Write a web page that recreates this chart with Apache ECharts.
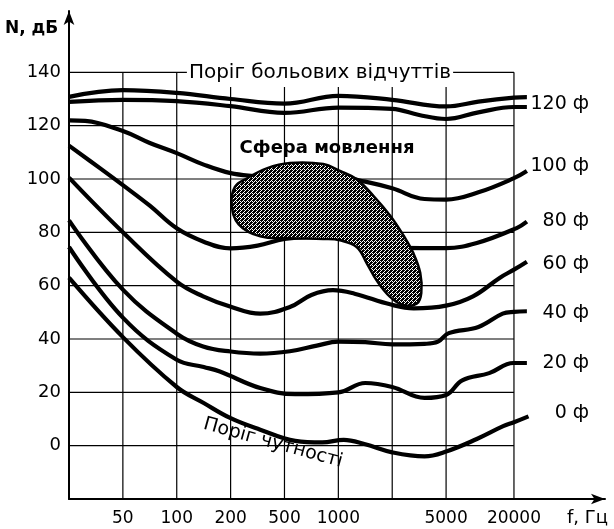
<!DOCTYPE html>
<html><head><meta charset="utf-8">
<script src="https://cdn.jsdelivr.net/npm/echarts@6/dist/echarts.min.js"></script>
<style>html,body{margin:0;padding:0;background:#fff}#c{width:614px;height:529px}</style>
</head><body><div id="c"></div>
<script>
// ---- data ----
const gridX = [1, 2, 3, 4, 5, 6, 7, 8.26];           // positions of the frequency grid lines
const xLabels = ['50', '100', '200', '500', '1000', '', '5000', '20000'];
const yTicks = [0, 20, 40, 60, 80, 100, 120, 140];

const painX = [0, 1, 2, 3, 4, 5, 6, 7, 7.6, 8.26, 8.5];
const painY = [130.8, 133.3, 132.3, 130, 128.3, 131.2, 129.7, 127.2, 129, 130.5, 130.7];

const phon120X = [0, 1, 2, 3, 4, 5, 6, 6.5, 7, 7.6, 8.26, 8.5];
const phon120Y = [128.9, 129.7, 129.2, 127.3, 124.8, 126.8, 126.3, 124, 122.5, 125, 127, 127];

const phon100X = [0, 0.3, 1, 1.5, 2, 2.5, 3, 3.5, 4, 4.5, 5, 5.5, 6, 6.6, 7, 7.6, 8.26, 8.5];
const phon100Y = [122, 121.8, 118, 113.5, 109.7, 105.4, 102.2, 101, 100, 100.3, 100.8, 99, 96.5, 92.5, 92.3, 95, 100.3, 103];

const phon80X = [0, 0.58, 1, 1.5, 2, 2.5, 3, 3.5, 4, 4.5, 5, 5.5, 6.15, 7, 7.57, 8.31, 8.5];
const phon80Y = [112.5, 104, 97.7, 90, 81.5, 76.5, 74, 75, 77.5, 78.3, 78.5, 76.5, 74.2, 74.1, 76, 81.6, 84];

const phon60X = [0, 1, 2, 2.49, 2.99, 3.55, 4.1, 4.5, 4.9, 5.3, 5.96, 6.4, 7, 7.5, 8, 8.26, 8.5];
const phon60Y = [100.5, 80, 61.5, 56, 52.2, 49.5, 52, 56.5, 58.3, 57, 53, 51.5, 52.5, 56, 63, 66, 69];

const phon40X = [0, 1, 2, 2.49, 3, 3.55, 4.1, 4.6, 5, 5.5, 6, 6.6, 6.85, 7.05, 7.6, 8.05, 8.26, 8.5];
const phon40Y = [84.5, 58.5, 42, 37.2, 35.3, 34.5, 35.4, 37.5, 39, 38.8, 38, 38.2, 39, 42.2, 44.5, 49.5, 50.2, 50.4];

const phon20X = [0, 1, 2, 2.5, 2.8, 3.55, 4.2, 5, 5.5, 6, 6.6, 7, 7.3, 7.8, 8.25, 8.5];
const phon20Y = [74.5, 48, 32.2, 29.5, 27.8, 21.6, 19.3, 20, 23.5, 22, 17.9, 19, 24.5, 27.2, 31, 31];

const phon0X = [0, 1, 2, 2.5, 3, 3.55, 4.2, 4.7, 5.1, 5.5, 6, 6.6, 7, 7.57, 8.06, 8.26, 8.53];
const phon0Y = [63, 40.7, 22, 16, 10.3, 6, 1.8, 1.2, 2.2, 0.5, -2.5, -4, -2.2, 2.5, 7.3, 8.8, 11];

const speechX = [3.02, 3.08, 3.30, 3.67, 4.10, 4.72, 5.03, 5.34, 5.65, 5.96, 6.21, 6.39, 6.52, 6.54, 6.46, 6.21, 5.96, 5.71, 5.53, 5.34, 5.03, 4.72, 4.10, 3.55, 3.15];
const speechY = [90.5, 97.0, 100.2, 104.0, 106.0, 105.6, 103.0, 99.9, 93.7, 86.3, 78.8, 72.3, 64.8, 57.3, 53.3, 52.7, 55.8, 62.0, 68.3, 74.5, 77.0, 77.5, 77.8, 78.5, 83.0];

const curveLabels = ['120 ф', '100 ф', '80 ф', '60 ф', '40 ф', '20 ф', '0 ф'];

// ---- chart ----
const FONT = 'DejaVu Sans';
const chart = echarts.init(document.getElementById('c'), null, { renderer: 'canvas' });
const pairs = (xs, ys) => xs.map((x, i) => [x, ys[i]]);

const pc = document.createElement('canvas');
pc.width = 4; pc.height = 4;
const g = pc.getContext('2d');
g.fillStyle = '#fff'; g.fillRect(0, 0, 4, 4);
g.fillStyle = '#000';
[[0,0],[1,0],[2,0],[1,1],[3,1],[0,2],[2,2],[3,2],[1,3],[3,3],[2,3]].forEach(([a, b]) => g.fillRect(a, b, 1, 1));
const pattern = { image: pc, repeat: 'repeat' };

const xRight = gridX[gridX.length - 1];
const gridSegs = [
  ...gridX.map(x => [x, -20, x, 140]),
  ...yTicks.map(y => [0, y, xRight, y])
];

const curves = [
  [painX, painY], [phon120X, phon120Y], [phon100X, phon100Y], [phon80X, phon80Y],
  [phon60X, phon60Y], [phon40X, phon40Y], [phon20X, phon20Y], [phon0X, phon0Y]
];

const series = [
  {
    type: 'custom', silent: true, z: 1,
    data: gridSegs, encode: { x: [0, 2], y: [1, 3] },
    renderItem(params, api) {
      const a = api.coord([api.value(0), api.value(1)]);
      const b = api.coord([api.value(2), api.value(3)]);
      return { type: 'line', shape: { x1: a[0], y1: a[1], x2: b[0], y2: b[1] },
               style: { stroke: '#000', lineWidth: 1.2 } };
    }
  },
  ...curves.map(([xs, ys]) => ({
    type: 'line', data: pairs(xs, ys), smooth: 0.4, showSymbol: false, silent: true, z: 3,
    lineStyle: { color: '#000', width: 4.2 }
  })),
  {
    type: 'custom', silent: true, z: 5,
    data: [[speechX[0], speechY[0]]],
    renderItem(params, api) {
      const pts = speechX.map((x, i) => api.coord([x, speechY[i]]));
      return { type: 'polygon', shape: { points: pts, smooth: 0.4 },
               style: { fill: pattern, stroke: '#000', lineWidth: 2.5 } };
    }
  }
];

const labelTops = [104, 166, 221, 264, 313, 363, 413];
const graphic = [
  { type: 'text', x: 5, y: 29, style: { text: 'N, дБ', font: `bold 17px "${FONT}"`, fill: '#000', verticalAlign: 'middle' } },
  { type: 'text', x: 567, y: 518, style: { text: 'f, Гц', font: `18px "${FONT}"`, fill: '#000', verticalAlign: 'middle' } },
  { type: 'text', x: 320, y: 73, z: 10, style: { text: 'Поріг больових відчуттів', font: `20px "${FONT}"`, fill: '#000',
      align: 'center', verticalAlign: 'middle', backgroundColor: '#fff', padding: [2, 2, 6, 2] } },
  { type: 'text', x: 327, y: 148, style: { text: 'Сфера мовлення', font: `bold 18px "${FONT}"`, fill: '#000', align: 'center', verticalAlign: 'middle' } },
  { type: 'text', x: 273, y: 443, rotation: -0.27, style: { text: 'Поріг чутності', font: `19px "${FONT}"`, fill: '#000', align: 'center', verticalAlign: 'middle' } },
  ...curveLabels.map((t, i) => ({ type: 'text', x: 589, y: labelTops[i],
      style: { text: t, font: `19px "${FONT}"`, fill: '#000', align: 'right', verticalAlign: 'middle' } }))
];

chart.setOption({
  animation: false,
  backgroundColor: '#fff',
  grid: { left: 69, right: 9, top: 11, bottom: 30, containLabel: false },
  xAxis: {
    type: 'value', min: 0, max: 9.95,
    axisLine: { show: true, onZero: false, lineStyle: { color: '#000', width: 2 },
                symbol: ['none', 'arrow'], symbolSize: [8, 14] },
    axisTick: { show: false }, splitLine: { show: false },
    axisLabel: { customValues: gridX, formatter: v => { const i = gridX.indexOf(v); return i >= 0 ? xLabels[i] : ''; },
                 color: '#000', fontSize: 17, fontFamily: FONT, margin: 11 }
  },
  yAxis: {
    type: 'value', min: -20, max: 163,
    axisLine: { show: true, onZero: false, lineStyle: { color: '#000', width: 2 },
                symbol: ['none', 'arrow'], symbolSize: [8, 14] },
    axisTick: { show: false }, splitLine: { show: false },
    axisLabel: { customValues: yTicks, color: '#000', fontSize: 18, fontFamily: FONT, margin: 8 }
  },
  series,
  graphic
});
</script>
</body></html>
